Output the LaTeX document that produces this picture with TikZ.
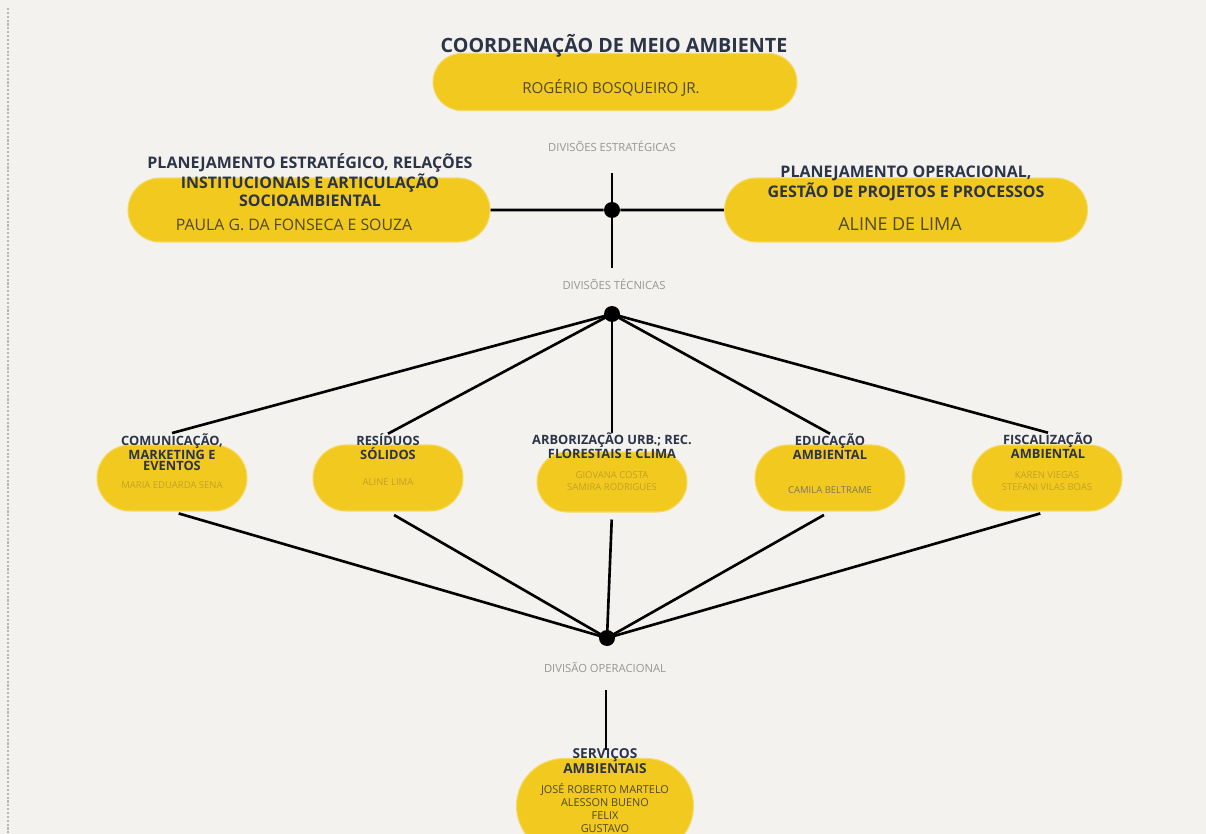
\documentclass[tikz,border=0pt]{standalone}
\usepackage{fontspec}
\setmainfont{Open Sans}
\usetikzlibrary{shapes.misc,positioning}
\definecolor{cmapaper}{RGB}{243,242,238}
\definecolor{cmayellow}{RGB}{242,201,30}
\definecolor{cmanavy}{RGB}{44,52,72}
\definecolor{cmaname}{RGB}{80,72,38}
\definecolor{cmafaint}{RGB}{196,160,40}
\definecolor{cmagray}{RGB}{150,150,150}
\pgfdeclarelayer{bg}
\pgfdeclarelayer{lines}
\pgfsetlayers{bg,lines,main}
\tikzset{
  pill/.style={rounded rectangle, fill=cmayellow, draw=cmayellow!70!white, line width=0.6pt, inner sep=0pt},
  smallpill/.style={pill, minimum width=3cm, minimum height=1.32cm},
  headttl/.style={text=cmanavy, font=\bfseries\fontsize{9.1}{8.2}\selectfont, align=center, inner sep=0pt},
  divttl/.style={text=cmanavy, font=\bfseries\fontsize{7.3}{6.3}\selectfont, align=center, inner sep=0pt},
  bigname/.style={text=cmaname, font=\fontsize{9}{10}\selectfont, inner sep=0pt},
  smallname/.style={text=cmafaint, font=\fontsize{5.4}{7.2}\selectfont, align=center, inner sep=0pt},
  divlabel/.style={text=cmagray, font=\fontsize{6.4}{7}\selectfont, inner sep=0pt},
  dot/.style={circle, fill=black, minimum size=0.32cm, inner sep=0pt},
  link/.style={black, line width=1.5pt}
}
\begin{document}
\begin{tikzpicture}[x=0.02cm,y=-0.02cm]
  \useasboundingbox (0,0) rectangle (1206,834);
  \begin{pgfonlayer}{bg}
    \fill[cmapaper] (0,0) rectangle (1206,834);
    \draw[cmagray!70, densely dotted, line width=1.2pt] (8,8) -- (8,834);
  \end{pgfonlayer}

  % coordenacao
  \node[pill, minimum width=7.28cm, minimum height=1.14cm] (coord) at (615,82) {};
  \node[text=cmanavy, font=\bfseries\fontsize{11.2}{12}\selectfont, inner sep=0pt] (coordT) at (614,46) {COORDENAÇÃO DE MEIO AMBIENTE};
  \node[bigname, font=\fontsize{8.6}{10}\selectfont] (coordN) at (611,88) {ROGÉRIO BOSQUEIRO JR.};

  % divisoes estrategicas
  \node[divlabel] (estL) at (612,146) {DIVISÕES ESTRATÉGICAS};
  \node[pill, minimum width=7.24cm, minimum height=1.28cm] (plest) at (309,210) {};
  \node[headttl] (plestT) at (310,180) {PLANEJAMENTO ESTRATÉGICO, RELAÇÕES\\INSTITUCIONAIS E ARTICULAÇÃO\\SOCIOAMBIENTAL};
  \node[bigname] (plestN) at (294,225) {PAULA G. DA FONSECA E SOUZA};
  \node[pill, minimum width=7.26cm, minimum height=1.28cm] (plop) at (906,210) {};
  \node[headttl] (plopT) at (906,183) {PLANEJAMENTO OPERACIONAL,\\GESTÃO DE PROJETOS E PROCESSOS};
  \node[bigname, font=\fontsize{10.2}{11}\selectfont] (plopN) at (900,224) {ALINE DE LIMA};
  \node[dot] (sdot) at (612,210) {};
  \coordinate (stop) at (612,173);
  \coordinate (sbot) at (612,268);

  % divisoes tecnicas
  \node[divlabel] (tecL) at (614,284) {DIVISÕES TÉCNICAS};
  \node[dot] (tdot) at (612,314) {};
  \node[smallpill] (com) at (172,478) {};
  \node[smallpill] (res) at (388,478) {};
  \node[smallpill, minimum height=1.2cm] (arb) at (612,482) {};
  \node[smallpill] (edu) at (830,478) {};
  \node[smallpill] (fis) at (1047,478) {};
  \node[divttl] (comT) at (172,452) {COMUNICAÇÃO,\\MARKETING E\\EVENTOS};
  \node[divttl] (resT) at (388,447) {RESÍDUOS\\SÓLIDOS};
  \node[divttl] (arbT) at (612,446) {ARBORIZAÇÃO URB.; REC.\\FLORESTAIS E CLIMA};
  \node[divttl] (eduT) at (830,447) {EDUCAÇÃO\\AMBIENTAL};
  \node[divttl] (fisT) at (1048,446) {FISCALIZAÇÃO\\AMBIENTAL};
  \node[smallname] (comN) at (172,485) {MARIA EDUARDA SENA};
  \node[smallname] (resN) at (388,482) {ALINE LIMA};
  \node[smallname] (arbN) at (612,481) {GIOVANA COSTA\\SAMIRA RODRIGUES};
  \node[smallname, text=cmaname!75] (eduN) at (830,490) {CAMILA BELTRAME};
  \node[smallname] (fisN) at (1047,481) {KAREN VIEGAS\\STEFANI VILAS BOAS};

  % divisao operacional
  \node[dot] (odot) at (607,638) {};
  \node[divlabel] (opL) at (605,668) {DIVISÃO OPERACIONAL};
  \coordinate (otop) at (606,690);
  \coordinate (obot) at (606,750);
  \node[pill, minimum width=3.54cm, minimum height=1.9cm] (serv) at (605,806) {};
  \node[divttl, font=\bfseries\fontsize{7.8}{7}\selectfont] (servT) at (605,761) {SERVIÇOS\\AMBIENTAIS};
  \node[smallname, text=cmaname, font=\fontsize{6.2}{7.4}\selectfont] (servN) at (605,808) {JOSÉ ROBERTO MARTELO\\ALESSON BUENO\\FELIX\\GUSTAVO};

  \begin{pgfonlayer}{lines}
    \draw[link] (plest) -- (sdot) -- (plop);
    \draw[link] (stop) -- (sbot);
    \foreach \d in {comT,resT,arbT,eduT,fisT}
      \draw[link] (tdot.center) -- (\d.north);
    \foreach \d in {com,res,arb,edu,fis}
      \draw[link, shorten <=0.14cm] (\d.south) -- (odot.center);
    \draw[link] (otop) -- (obot);
  \end{pgfonlayer}
\end{tikzpicture}
\end{document}
